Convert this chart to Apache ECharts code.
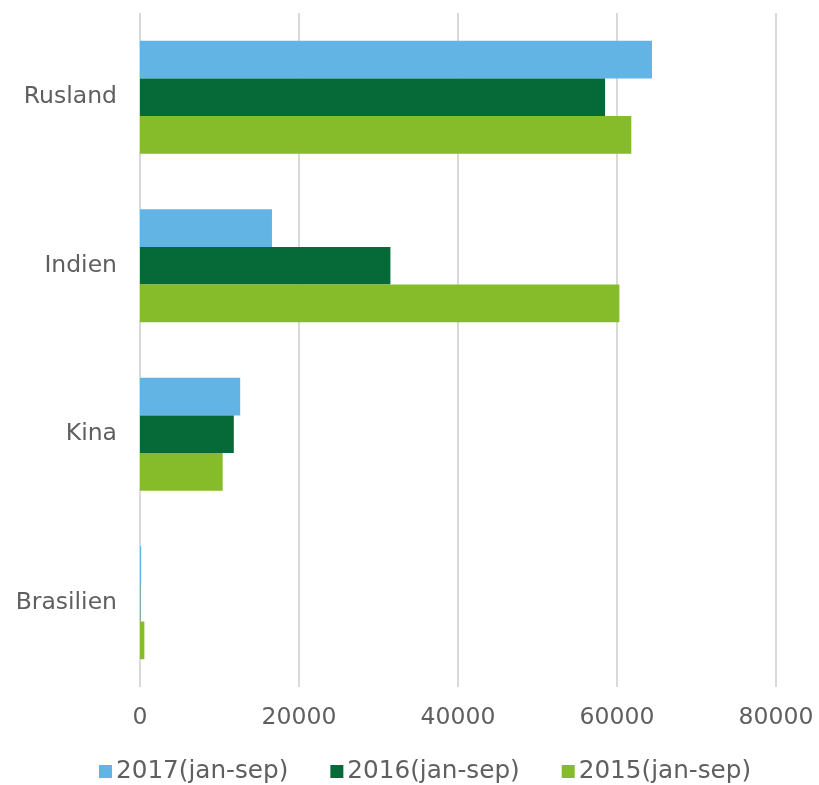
<!DOCTYPE html>
<html><head><meta charset="utf-8">
<script src="https://cdn.jsdelivr.net/npm/echarts@6/dist/echarts.min.js"></script>
<style>html,body{margin:0;padding:0;background:#fff}#c{width:819px;height:785px}</style>
</head><body><div id="c"></div>
<script>
const categories = ['Rusland', 'Indien', 'Kina', 'Brasilien'];
const seriesNames = ['2017(jan-sep)', '2016(jan-sep)', '2015(jan-sep)'];
const v2017 = [64400, 16600, 12600, 150];
const v2016 = [58500, 31500, 11800, 50];
const v2015 = [61800, 60300, 10400, 550];
const colors = ['#62b4e4', '#056a38', '#86bc29'];

const chart = echarts.init(document.getElementById('c'), null, {renderer: 'canvas'});
const font = "'DejaVu Sans', Verdana, sans-serif";
const mk = (name, data, i) => ({
  name, type: 'bar', data, barGap: '0%', barCategoryGap: '33%',
  itemStyle: {color: colors[i]}
});
chart.setOption({
  animation: false,
  color: colors,
  grid: {left: 140, right: 43, top: 13, bottom: 98},
  legend: {
    bottom: -4, left: 94, itemWidth: 13, itemHeight: 13, itemGap: 42,
    icon: 'rect',
    textStyle: {fontFamily: font, fontSize: 24.7, color: '#5f5f5f', padding: [0, 0, 0, -1]}
  },
  xAxis: {
    type: 'value', min: 0, max: 80000, interval: 20000,
    axisLine: {show: false}, axisTick: {show: false},
    axisLabel: {fontFamily: font, fontSize: 23.5, color: '#5f5f5f', margin: 19,
      formatter: v => String(v)},
    splitLine: {lineStyle: {color: '#d9d9d9', width: 2}}
  },
  yAxis: {
    type: 'category', data: categories, inverse: true,
    axisLine: {show: false}, axisTick: {show: false},
    axisLabel: {fontFamily: font, fontSize: 23.5, color: '#5f5f5f', margin: 23, lineHeight: 28, verticalAlign: 'middle'}
  },
  series: [mk(seriesNames[0], v2017, 0), mk(seriesNames[1], v2016, 1), mk(seriesNames[2], v2015, 2)]
});
</script></body></html>
